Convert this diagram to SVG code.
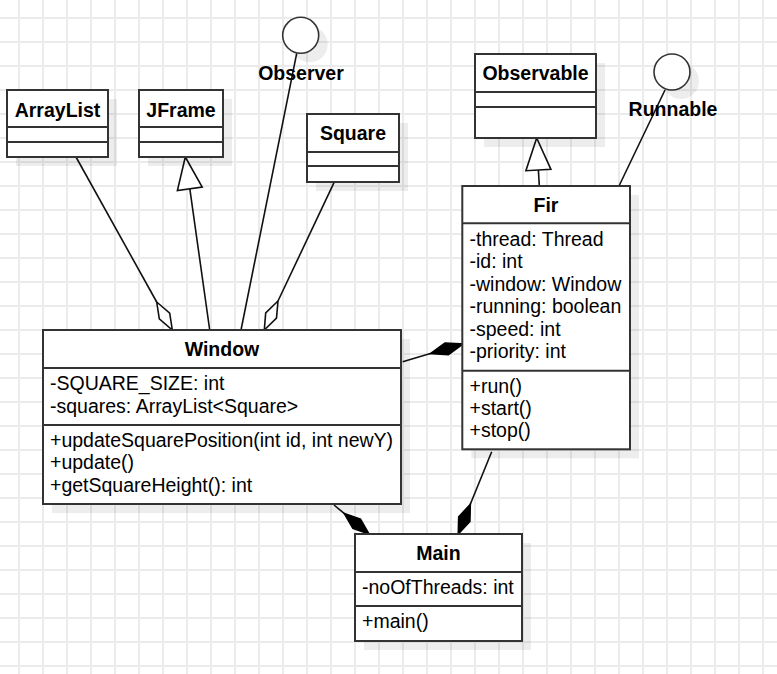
<svg xmlns="http://www.w3.org/2000/svg" width="777" height="674" viewBox="0 0 777 674">
<style>
.box{fill:#fff;stroke:#333;stroke-width:2}
.div{stroke:#333;stroke-width:2}
.shadow{fill:#000;opacity:0.07}
.t{font-family:"Liberation Sans",Arial,sans-serif;font-size:19.5px;fill:#000}
.b{font-weight:bold;text-anchor:middle}
.ln{stroke:#111;stroke-width:1.6;fill:none}
.open{fill:#fff;stroke:#111;stroke-width:1.6}
.fill{fill:#000;stroke:#000;stroke-width:1.6}
</style>
<defs>
<pattern id="grid" x="18" y="17" width="24" height="24" patternUnits="userSpaceOnUse">
<path d="M1 0V24M0 1H24" stroke="#ebebeb" stroke-width="2" fill="none"/>
</pattern>
</defs>
<rect width="777" height="674" fill="#fff"/>
<rect width="777" height="674" fill="url(#grid)"/>

<g id="connectors">
<!-- ArrayList to Window aggregation -->
<line class="ln" x1="76" y1="157" x2="156.7" y2="302"/>
<polygon class="open" points="156.7,302 169.7,313.1 172.3,330 159.3,318.9"/>
<!-- JFrame generalization -->
<line class="ln" x1="209.7" y1="330" x2="189.8" y2="188.7"/>
<polygon class="open" points="185.3,157 202.2,187 177.4,190.5"/>
<!-- Observer realization -->
<line class="ln" x1="296.7" y1="53.3" x2="241" y2="330"/>
<!-- Square aggregation -->
<line class="ln" x1="334" y1="182.7" x2="278" y2="301"/>
<polygon class="open" points="278,301 276.5,318.1 264.3,330 265.7,312.9"/>
<!-- Fir to Observable -->
<line class="ln" x1="539.3" y1="186" x2="538.4" y2="170"/>
<polygon class="open" points="536.7,138 550.9,169.3 525.9,170.7"/>
<!-- Runnable -->
<line class="ln" x1="665" y1="90" x2="619" y2="186"/>
<!-- Window to Fir composition -->
<line class="ln" x1="402.7" y1="361.7" x2="430.4" y2="353.6"/>
<polygon class="fill" points="430.4,353.6 445,343 463,344 448.4,354.6"/>
<!-- Window to Main composition -->
<line class="ln" x1="334" y1="505" x2="344.4" y2="513.6"/>
<polygon class="fill" points="344.4,513.6 360.5,519.2 369,534 352.9,528.4"/>
<!-- Fir to Main composition -->
<line class="ln" x1="491.7" y1="451.7" x2="470.3" y2="504.3"/>
<polygon class="fill" points="470.3,504.3 469.9,521.5 458.3,534 458.7,516.9"/>
</g>

<g id="ArrayList">
<rect class="shadow" x="16" y="99" width="101" height="67"/>
<rect class="box" x="7" y="90" width="101" height="67"/>
<line class="div" x1="7" y1="127" x2="108" y2="127"/>
<line class="div" x1="7" y1="142" x2="108" y2="142"/>
<text class="t b" x="57.5" y="116.5">ArrayList</text>
</g>

<g id="JFrame">
<rect class="shadow" x="148" y="99" width="84" height="67"/>
<rect class="box" x="139" y="90" width="84" height="67"/>
<line class="div" x1="139" y1="127" x2="223" y2="127"/>
<line class="div" x1="139" y1="142" x2="223" y2="142"/>
<text class="t b" x="181" y="116.5">JFrame</text>
</g>

<g id="Observer">
<circle class="shadow" cx="309.7" cy="44.3" r="18"/>
<circle cx="300.7" cy="35.3" r="18" fill="#fff" stroke="#333" stroke-width="1.6"/>
<text class="t b" x="301" y="80">Observer</text>
</g>

<g id="Square">
<rect class="shadow" x="316" y="123" width="92" height="68"/>
<rect class="box" x="307" y="114" width="92" height="68"/>
<line class="div" x1="307" y1="152" x2="399" y2="152"/>
<line class="div" x1="307" y1="166" x2="399" y2="166"/>
<text class="t b" x="353" y="140">Square</text>
</g>

<g id="Observable">
<rect class="shadow" x="484" y="63" width="121" height="84"/>
<rect class="box" x="475" y="54" width="121" height="84"/>
<line class="div" x1="475" y1="92" x2="596" y2="92"/>
<line class="div" x1="475" y1="107" x2="596" y2="107"/>
<text class="t b" x="535.5" y="80">Observable</text>
</g>

<g id="Runnable">
<circle class="shadow" cx="681" cy="81" r="18"/>
<circle cx="672" cy="72" r="18" fill="#fff" stroke="#333" stroke-width="1.6"/>
<text class="t b" x="673" y="116">Runnable</text>
</g>

<g id="Fir">
<rect class="shadow" x="471.3" y="195" width="167.7" height="263.3"/>
<rect class="box" x="462.3" y="186" width="167.7" height="263.3"/>
<line class="div" x1="462.3" y1="223.3" x2="630" y2="223.3"/>
<line class="div" x1="462.3" y1="370.7" x2="630" y2="370.7"/>
<text class="t b" x="546" y="211.7">Fir</text>
<text class="t" x="469.5" y="246">-thread: Thread</text>
<text class="t" x="469.5" y="268.4">-id: int</text>
<text class="t" x="469.5" y="290.8">-window: Window</text>
<text class="t" x="469.5" y="313.2">-running: boolean</text>
<text class="t" x="469.5" y="335.6">-speed: int</text>
<text class="t" x="469.5" y="358">-priority: int</text>
<text class="t" x="469.5" y="392.8">+run()</text>
<text class="t" x="469.5" y="415.1">+start()</text>
<text class="t" x="469.5" y="437.4">+stop()</text>
</g>

<g id="Window">
<rect class="shadow" x="52" y="339" width="358" height="174"/>
<rect class="box" x="43" y="330" width="358" height="174"/>
<line class="div" x1="43" y1="368" x2="401" y2="368"/>
<line class="div" x1="43" y1="425" x2="401" y2="425"/>
<text class="t b" x="222" y="356">Window</text>
<text class="t" x="50" y="390">-SQUARE_SIZE: int</text>
<text class="t" x="50" y="412.7">-squares: ArrayList&lt;Square&gt;</text>
<text class="t" x="50" y="446.7">+updateSquarePosition(int id, int newY)</text>
<text class="t" x="50" y="469.2">+update()</text>
<text class="t" x="50" y="491.7">+getSquareHeight(): int</text>
</g>

<g id="Main">
<rect class="shadow" x="364" y="543" width="167" height="107"/>
<rect class="box" x="355" y="534" width="167" height="107"/>
<line class="div" x1="355" y1="572" x2="522" y2="572"/>
<line class="div" x1="355" y1="606" x2="522" y2="606"/>
<text class="t b" x="438.5" y="560">Main</text>
<text class="t" x="362" y="594">-noOfThreads: int</text>
<text class="t" x="362" y="628.3">+main()</text>
</g>
</svg>
